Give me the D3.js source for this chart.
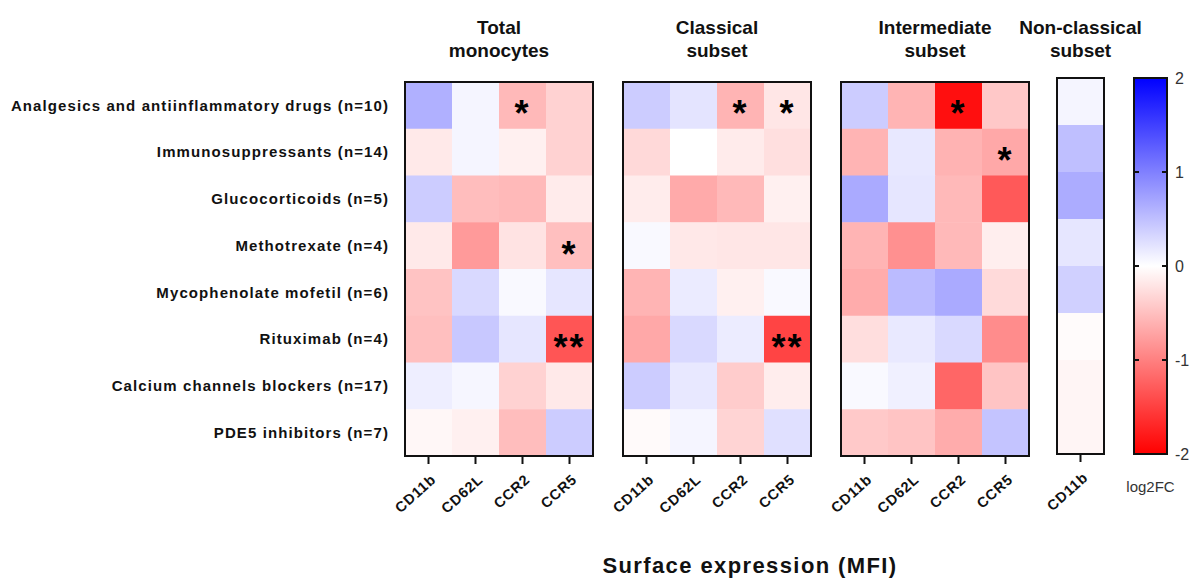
<!DOCTYPE html>
<html>
<head>
<meta charset="utf-8">
<script src="https://cdn.jsdelivr.net/npm/d3@7"></script>
<style>
  body { margin: 0; background: #fff; }
  text { font-family: "Liberation Sans", Arial, sans-serif; }
</style>
</head>
<body>
<svg id="chart" width="1196" height="580"></svg>
<script>
// row categories (drug classes)
let drugs = [
  "Analgesics and antiinflammatory drugs (n=10)",
  "Immunosuppressants (n=14)",
  "Glucocorticoids (n=5)",
  "Methotrexate (n=4)",
  "Mycophenolate mofetil (n=6)",
  "Rituximab (n=4)",
  "Calcium channels blockers (n=17)",
  "PDE5 inhibitors (n=7)"
];
let markers = ["CD11b", "CD62L", "CCR2", "CCR5"];
let panelTitles = [
  ["Total", "monocytes"],
  ["Classical", "subset"],
  ["Intermediate", "subset"],
  ["Non-classical", "subset"]
];

// log2FC values, one row per drug, columns follow markers
let totalValues = [
  [0.62, 0.08, -0.55, -0.35],
  [-0.17, 0.08, -0.12, -0.35],
  [0.40, -0.52, -0.55, -0.16],
  [-0.17, -0.79, -0.22, -0.50],
  [-0.47, 0.30, 0.05, 0.20],
  [-0.50, 0.43, 0.20, -1.33],
  [0.13, 0.07, -0.35, -0.17],
  [-0.06, -0.12, -0.52, 0.40]
];
let classicalValues = [
  [0.40, 0.21, -0.59, -0.20],
  [-0.30, 0.00, -0.16, -0.25],
  [-0.15, -0.67, -0.55, -0.12],
  [0.05, -0.18, -0.20, -0.20],
  [-0.59, 0.16, -0.12, 0.05],
  [-0.68, 0.30, 0.15, -1.47],
  [0.40, 0.18, -0.40, -0.14],
  [-0.04, 0.08, -0.34, 0.24]
];
let intermediateValues = [
  [0.40, -0.59, -1.88, -0.43],
  [-0.59, 0.18, -0.60, -0.68],
  [0.67, 0.20, -0.55, -1.30],
  [-0.59, -0.87, -0.55, -0.13],
  [-0.65, 0.53, 0.67, -0.29],
  [-0.26, 0.17, 0.30, -0.90],
  [0.05, 0.12, -1.20, -0.46],
  [-0.42, -0.46, -0.65, 0.46]
];
let nonClassicalValues = [
  [0.08], [0.50], [0.65], [0.20], [0.37], [-0.03], [-0.08], [-0.08]
];

// significance marks: [row, column, label]
let totalStars = [[0, 2, "*"], [3, 3, "*"], [5, 3, "**"]];
let classicalStars = [[0, 2, "*"], [0, 3, "*"], [5, 3, "**"]];
let intermediateStars = [[0, 2, "*"], [1, 3, "*"]];
let nonClassicalStars = [];

let legendTicks = [-2, -1, 0, 1, 2];

let svg = d3.select("#chart");
let color = d3.scaleLinear()
  .domain([-2, 0, 2])
  .range(["#ff0000", "#ffffff", "#0000ff"])
  .clamp(true);

let cellW = 47;
let panels = [
  { title: panelTitles[0], values: totalValues, stars: totalStars, cols: markers, left: 405, top: 82, bottom: 456 },
  { title: panelTitles[1], values: classicalValues, stars: classicalStars, cols: markers, left: 623, top: 82, bottom: 456 },
  { title: panelTitles[2], values: intermediateValues, stars: intermediateStars, cols: markers, left: 841, top: 82, bottom: 456 },
  { title: panelTitles[3], values: nonClassicalValues, stars: nonClassicalStars, cols: ["CD11b"], left: 1057, top: 78, bottom: 454 }
];

panels.forEach(function(p) {
  let x = d3.scaleBand().domain(p.cols).range([p.left, p.left + cellW * p.cols.length]);
  let y = d3.scaleBand().domain(drugs).range([p.top, p.bottom]);
  let g = svg.append("g");

  let cells = [];
  p.values.forEach(function(row, i) {
    row.forEach(function(v, j) {
      cells.push({ drug: drugs[i], marker: p.cols[j], v: v });
    });
  });

  g.selectAll("rect.cell")
    .data(cells)
    .enter().append("rect")
      .attr("class", "cell")
      .attr("x", function(d) { return x(d.marker); })
      .attr("y", function(d) { return y(d.drug); })
      .attr("width", x.bandwidth() + 0.5)
      .attr("height", y.bandwidth() + 0.5)
      .attr("fill", function(d) { return color(d.v); });

  g.selectAll("text.star")
    .data(p.stars)
    .enter().append("text")
      .attr("class", "star")
      .attr("x", function(d) { return x(p.cols[d[1]]) + x.bandwidth() / 2; })
      .attr("y", function(d) { return y(drugs[d[0]]) + y.bandwidth() / 2 + 21; })
      .attr("text-anchor", "middle")
      .attr("font-size", 36)
      .attr("font-weight", "bold")
      .attr("letter-spacing", 2)
      .attr("fill", "#000")
      .text(function(d) { return d[2]; });

  g.append("rect")
    .attr("x", x.range()[0])
    .attr("y", p.top)
    .attr("width", x.range()[1] - x.range()[0])
    .attr("height", p.bottom - p.top)
    .attr("fill", "none")
    .attr("stroke", "#111")
    .attr("stroke-width", 2);

  let ax = g.append("g")
    .attr("transform", "translate(0," + (p.bottom + 1) + ")")
    .call(d3.axisBottom(x).tickSize(7));
  ax.select(".domain").remove();
  ax.selectAll("line").attr("stroke", "#111").attr("stroke-width", 2);
  ax.selectAll("text")
    .attr("font-size", 14.5)
    .attr("font-weight", "bold")
    .attr("letter-spacing", 0.8)
    .attr("fill", "#111")
    .attr("text-anchor", "end")
    .attr("x", 0)
    .attr("y", 0)
    .attr("dy", "0.35em")
    .attr("transform", "translate(5,20) rotate(-42)");

  let cx = (x.range()[0] + x.range()[1]) / 2;
  g.append("text")
    .attr("x", cx)
    .attr("y", 34)
    .attr("text-anchor", "middle")
    .attr("font-size", 19)
    .attr("font-weight", "bold")
    .attr("fill", "#111")
    .text(p.title[0]);
  g.append("text")
    .attr("x", cx)
    .attr("y", 57)
    .attr("text-anchor", "middle")
    .attr("font-size", 19)
    .attr("font-weight", "bold")
    .attr("fill", "#111")
    .text(p.title[1]);
});

// row labels
let yRows = d3.scaleBand().domain(drugs).range([82, 456]);
svg.append("g")
  .selectAll("text")
  .data(drugs)
  .enter().append("text")
    .attr("x", 389)
    .attr("y", function(d) { return yRows(d) + yRows.bandwidth() / 2; })
    .attr("dy", "0.35em")
    .attr("text-anchor", "end")
    .attr("font-size", 15)
    .attr("font-weight", "bold")
    .attr("letter-spacing", 1.1)
    .attr("fill", "#111")
    .text(function(d) { return d; });

// colour legend
let defs = svg.append("defs");
let grad = defs.append("linearGradient")
  .attr("id", "lg")
  .attr("x1", 0).attr("y1", 1).attr("x2", 0).attr("y2", 0);
grad.selectAll("stop")
  .data(legendTicks)
  .enter().append("stop")
    .attr("offset", function(d) { return (d + 2) / 4; })
    .attr("stop-color", function(d) { return color(d); });

let legX = 1134, legW = 33, legTop = 78, legBottom = 454;
let ly = d3.scaleLinear().domain([-2, 2]).range([legBottom, legTop]);
svg.append("rect")
  .attr("x", legX)
  .attr("y", legTop)
  .attr("width", legW)
  .attr("height", legBottom - legTop)
  .attr("fill", "url(#lg)")
  .attr("stroke", "#111")
  .attr("stroke-width", 2);

let inner = legendTicks.filter(function(d) { return d > -2 && d < 2; });
svg.append("g")
  .selectAll("line")
  .data(inner.concat(inner))
  .enter().append("line")
    .attr("x1", function(d, i) { return i < inner.length ? legX : legX + legW - 5; })
    .attr("x2", function(d, i) { return i < inner.length ? legX + 5 : legX + legW; })
    .attr("y1", function(d) { return ly(d); })
    .attr("y2", function(d) { return ly(d); })
    .attr("stroke", "#111")
    .attr("stroke-width", 2);

let lax = svg.append("g")
  .attr("transform", "translate(" + (legX + legW) + ",0)")
  .call(d3.axisRight(ly).tickValues(legendTicks).tickSize(0).tickPadding(8).tickFormat(function(d) { return String(d); }));
lax.select(".domain").remove();
lax.selectAll("text")
  .attr("font-size", 16)
  .attr("fill", "#333")
  .attr("font-family", "'Liberation Sans', Arial, sans-serif");

svg.append("text")
  .attr("x", legX + legW / 2)
  .attr("y", 492)
  .attr("text-anchor", "middle")
  .attr("font-size", 15)
  .attr("fill", "#333")
  .text("log2FC");

svg.append("text")
  .attr("x", 750)
  .attr("y", 573)
  .attr("text-anchor", "middle")
  .attr("font-size", 22)
  .attr("font-weight", "bold")
  .attr("fill", "#111")
  .attr("letter-spacing", 1.4)
  .text("Surface expression (MFI)");
</script>
</body>
</html>
